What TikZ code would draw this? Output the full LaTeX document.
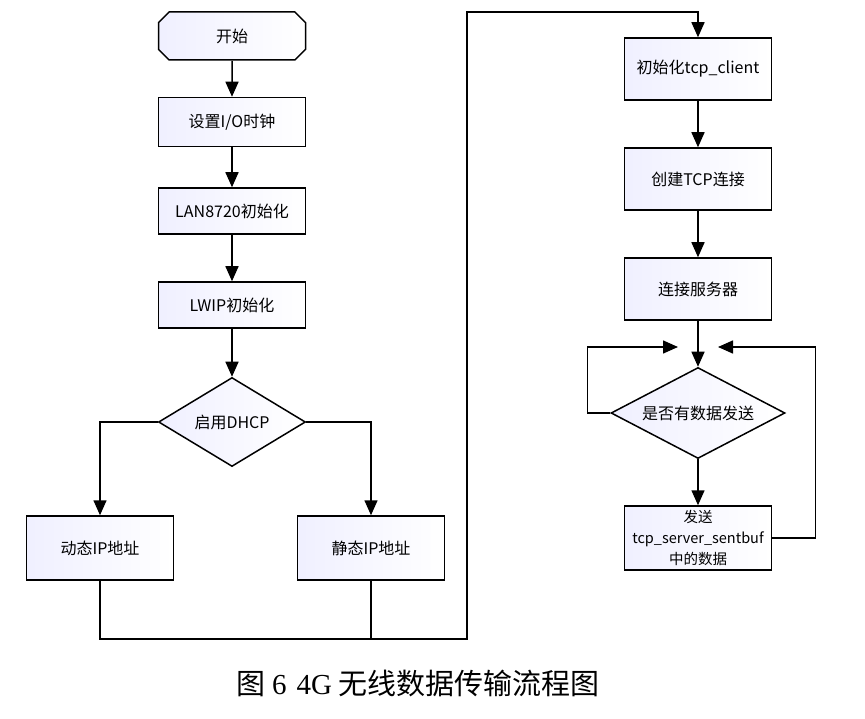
\documentclass[tikz,border=0pt]{standalone}
\usepackage{fontspec}
\setmainfont{Noto Sans CJK SC}
\newfontfamily\capserif{Liberation Serif}
\usetikzlibrary{arrows.meta,shapes.geometric,shapes.misc}

\tikzset{
  flow/.style={line width=1.5pt, -{Triangle[length=15pt,width=13pt]}},
  link/.style={line width=1.5pt},
  stepbox/.style={draw, line width=1.5pt, rectangle, minimum width=147pt, minimum height=49pt,
    left color=blue!6!white, right color=white, font=\fontsize{16}{20}\selectfont, align=center},
  startbox/.style={stepbox, chamfered rectangle, chamfered rectangle xsep=7pt, minimum height=48pt},
  decide/.style={draw, line width=1.5pt, diamond, inner sep=0pt,
    left color=blue!6!white, right color=white, font=\fontsize{16}{20}\selectfont}
}

\begin{document}
\begin{tikzpicture}[x=1pt,y=-1pt]
        \useasboundingbox (0,0) rectangle (865,719);

        % left column
        \node[startbox] (start) at (232,36) {开始};
        \node[stepbox] (clock) at (232,122) {设置I/O时钟};
        \node[stepbox, minimum height=46pt] (lan) at (232,211) {LAN8720初始化};
        \node[stepbox, minimum height=46pt] (lwip) at (232,305) {LWIP初始化};
        \node[decide, minimum width=147pt, minimum height=89pt, aspect=1.65] (dhcp) at (232,422) {启用DHCP};
        \node[stepbox, minimum height=64pt] (dyn) at (100,548) {动态IP地址};
        \node[stepbox, minimum height=64pt] (sta) at (371,548) {静态IP地址};

        % right column
        \node[stepbox, minimum height=62pt] (tcp) at (698,69) {初始化tcp\_client};
        \node[stepbox, minimum height=62pt] (conn) at (698,179) {创建TCP连接};
        \node[stepbox, minimum height=62pt] (server) at (698,289) {连接服务器};
        \node[decide, minimum width=174pt, minimum height=91pt, aspect=1.9] (ask) at (698,413) {是否有数据发送};
        \node[stepbox, minimum height=64pt, inner sep=1pt, font=\fontsize{14.5}{21}\selectfont] (send) at (698,538)
          {发送\\tcp\_server\_sentbuf\\中的数据};

        \coordinate (low) at (467,639);
        \coordinate (high) at (467,12);
        \coordinate (lhead) at (678,347);
        \coordinate (rhead) at (718,347);

        \draw[flow] (start) -- (clock);
        \draw[flow] (clock) -- (lan);
        \draw[flow] (lan) -- (lwip);
        \draw[flow] (lwip) -- (dhcp);
        \draw[flow] (dhcp.west) -| (dyn.north);
        \draw[flow] (dhcp.east) -| (sta.north);
        \draw[link] (sta.south) -- (sta.south |- low);
        \draw[flow] (dyn.south) |- (low) -- (high) -| (tcp.north);

        \draw[flow] (tcp) -- (conn);
        \draw[flow] (conn) -- (server);
        \draw[flow] (server) -- (ask);
        \draw[flow] (ask) -- (send);
        \draw[flow] (ask.west) -- ++(-23,0) |- (lhead);
        \draw[flow] (send.east) -- ++(43,0) |- (rhead);

        \node[font=\fontsize{29}{34}\selectfont] (caption) at (418,683)
          {图 {\capserif 6}\hspace{10pt}{\capserif 4G} 无线数据传输流程图};
      \end{tikzpicture}
\end{document}
